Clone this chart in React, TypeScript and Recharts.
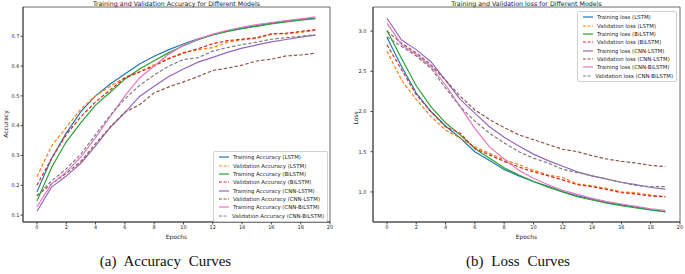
import { LineChart, Line, XAxis, YAxis, ReferenceArea } from "recharts"

const epochs = [0, 1, 2, 3, 4, 5, 6, 7, 8, 9, 10, 11, 12, 13, 14, 15, 16, 17, 18, 19]
const epochTicks = [0, 2, 4, 6, 8, 10, 12, 14, 16, 18, 20]
const accTicks = [0.1, 0.2, 0.3, 0.4, 0.5, 0.6, 0.7]
const lossTicks = [1.0, 1.5, 2.0, 2.5, 3.0]

// accuracy curves
const trainAccLstm = [0.178, 0.29, 0.375, 0.447, 0.5, 0.54, 0.573, 0.607, 0.633, 0.655, 0.674, 0.691, 0.705, 0.717, 0.727, 0.736, 0.744, 0.75, 0.756, 0.761]
const valAccLstm = [0.229, 0.332, 0.394, 0.456, 0.5, 0.532, 0.562, 0.581, 0.604, 0.626, 0.646, 0.655, 0.662, 0.68, 0.688, 0.693, 0.707, 0.708, 0.713, 0.72]
const trainAccBilstm = [0.147, 0.26, 0.346, 0.41, 0.469, 0.512, 0.556, 0.59, 0.618, 0.645, 0.668, 0.688, 0.704, 0.716, 0.725, 0.733, 0.741, 0.748, 0.754, 0.759]
const valAccBilstm = [0.2, 0.29, 0.37, 0.43, 0.48, 0.52, 0.56, 0.58, 0.6, 0.625, 0.643, 0.658, 0.675, 0.685, 0.69, 0.695, 0.708, 0.71, 0.716, 0.722]
const trainAccCnnLstm = [0.113, 0.194, 0.231, 0.274, 0.332, 0.394, 0.444, 0.498, 0.532, 0.565, 0.59, 0.613, 0.629, 0.646, 0.66, 0.671, 0.681, 0.689, 0.697, 0.704]
const valAccCnnLstm = [0.165, 0.205, 0.24, 0.28, 0.34, 0.395, 0.445, 0.47, 0.51, 0.53, 0.547, 0.565, 0.585, 0.593, 0.603, 0.617, 0.623, 0.634, 0.637, 0.643]
const trainAccCnnBilstm = [0.128, 0.205, 0.245, 0.295, 0.36, 0.43, 0.5, 0.56, 0.6, 0.64, 0.67, 0.69, 0.707, 0.72, 0.73, 0.739, 0.746, 0.752, 0.758, 0.765]
const valAccCnnBilstm = [0.165, 0.215, 0.255, 0.305, 0.37, 0.435, 0.49, 0.535, 0.57, 0.6, 0.622, 0.628, 0.65, 0.662, 0.672, 0.68, 0.69, 0.695, 0.7, 0.705]

// loss curves
const trainLossLstm = [2.925, 2.56, 2.23, 2.0, 1.82, 1.67, 1.5, 1.39, 1.28, 1.2, 1.13, 1.07, 1.0, 0.95, 0.91, 0.87, 0.84, 0.81, 0.78, 0.755]
const valLossLstm = [2.75, 2.39, 2.15, 1.94, 1.77, 1.67, 1.56, 1.48, 1.4, 1.34, 1.27, 1.21, 1.18, 1.1, 1.075, 1.045, 1.0, 0.99, 0.96, 0.94]
const trainLossBilstm = [3.01, 2.66, 2.32, 2.06, 1.86, 1.71, 1.54, 1.42, 1.3, 1.21, 1.13, 1.06, 1.0, 0.94, 0.9, 0.86, 0.83, 0.8, 0.775, 0.75]
const valLossBilstm = [2.83, 2.52, 2.21, 2.0, 1.81, 1.73, 1.54, 1.46, 1.38, 1.31, 1.25, 1.2, 1.15, 1.09, 1.065, 1.03, 0.99, 0.975, 0.95, 0.94]
const trainLossCnnLstm = [3.16, 2.89, 2.77, 2.62, 2.39, 2.15, 1.98, 1.81, 1.68, 1.57, 1.47, 1.39, 1.32, 1.25, 1.2, 1.16, 1.12, 1.09, 1.055, 1.035]
const valLossCnnLstm = [3.0, 2.85, 2.73, 2.58, 2.39, 2.19, 2.02, 1.9, 1.8, 1.71, 1.65, 1.59, 1.53, 1.5, 1.45, 1.41, 1.38, 1.36, 1.33, 1.315]
const trainLossCnnBilstm = [3.1, 2.83, 2.71, 2.56, 2.33, 2.06, 1.79, 1.56, 1.41, 1.27, 1.17, 1.09, 1.02, 0.97, 0.92, 0.88, 0.85, 0.82, 0.79, 0.77]
const valLossCnnBilstm = [2.93, 2.81, 2.69, 2.54, 2.29, 2.06, 1.88, 1.73, 1.61, 1.5, 1.42, 1.36, 1.28, 1.24, 1.2, 1.16, 1.12, 1.08, 1.065, 1.065]

const models = ["LSTM", "BiLSTM", "CNN-LSTM", "CNN-BiLSTM"]
const trainColors = ["#1f77b4", "#2ca02c", "#9467bd", "#e377c2"]
const valColors = ["#ff7f0e", "#d62728", "#8c564b", "#7f7f7f"]

const accSeries = [trainAccLstm, valAccLstm, trainAccBilstm, valAccBilstm, trainAccCnnLstm, valAccCnnLstm, trainAccCnnBilstm, valAccCnnBilstm]
const lossSeries = [trainLossLstm, valLossLstm, trainLossBilstm, valLossBilstm, trainLossCnnLstm, valLossCnnLstm, trainLossCnnBilstm, valLossCnnBilstm]

const FONT = "'DejaVu Sans', sans-serif"

type SeriesInfo = { key: string; name: string; color: string; dashed: boolean }

function seriesInfo(kind: string): SeriesInfo[] {
  const out: SeriesInfo[] = []
  models.forEach((m, i) => {
    out.push({ key: "s" + i * 2, name: `Training ${kind} (${m})`, color: trainColors[i], dashed: false })
    out.push({ key: "s" + (i * 2 + 1), name: `Validation ${kind} (${m})`, color: valColors[i], dashed: true })
  })
  return out
}

function buildRows(series: number[][]) {
  return epochs.map((e, i) => {
    const row: Record<string, number> = { epoch: e }
    series.forEach((s, j) => (row["s" + j] = s[i]))
    return row
  })
}

function LegendBox({ items, style }: { items: SeriesInfo[]; style: React.CSSProperties }) {
  return (
    <div
      style={{
        position: "absolute",
        border: "1px solid #d0d0d0",
        borderRadius: 2,
        background: "rgba(255,255,255,0.85)",
        padding: "1px 3px 1px 5px",
        fontFamily: FONT,
        fontSize: 5.4,
        color: "#222",
        ...style,
      }}
    >
      {items.map((it) => (
        <div key={it.key} style={{ display: "flex", alignItems: "center", height: 8.36 }}>
          <svg width={10} height={4} style={{ marginRight: 4 }}>
            <line x1={0} x2={10} y1={2} y2={2} stroke={it.color} strokeWidth={1.2} strokeDasharray={it.dashed ? "3 1.5" : undefined} />
          </svg>
          <span style={{ whiteSpace: "nowrap" }}>{it.name}</span>
        </div>
      ))}
    </div>
  )
}

type PanelProps = {
  left: number
  width: number
  plotLeft: number
  plotRight: number
  yWidth: number
  series: number[][]
  kind: string
  yDomain: [number, number]
  yTicks: number[]
  yLabel: string
  yLabelX: number
  yLabelY: number
  title: string
  legendStyle: React.CSSProperties
  tickMargin: number
}

function Panel(p: PanelProps) {
  const rows = buildRows(p.series)
  const info = seriesInfo(p.kind)
  const plotTop = 7
  const plotBottom = 222
  return (
    <div style={{ position: "absolute", left: p.left, top: 0, width: p.width, height: 240 }}>
      <div
        style={{
          position: "absolute",
          left: p.plotLeft,
          width: p.plotRight - p.plotLeft,
          top: 0,
          lineHeight: "7px",
          textAlign: "center",
          fontFamily: FONT,
          fontSize: 6.3,
          color: "#222",
          whiteSpace: "nowrap",
        }}
      >
        {p.title}
      </div>
      <div
        style={{
          position: "absolute",
          left: p.yLabelX,
          top: p.yLabelY,
          transform: "translate(-50%, -50%) rotate(-90deg)",
          fontFamily: FONT,
          fontSize: 6,
          color: "#222",
          whiteSpace: "nowrap",
        }}
      >
        {p.yLabel}
      </div>
      <LineChart
        width={p.width}
        height={240}
        data={rows}
        margin={{ top: plotTop, right: p.width - p.plotRight, bottom: 0, left: p.plotLeft - p.yWidth }}
      >
        <XAxis
          dataKey="epoch"
          type="number"
          domain={[-0.95, 20]}
          ticks={epochTicks}
          interval={0}
          allowDataOverflow
          height={240 - plotBottom}
          tickSize={2.5}
          tickMargin={1}
          stroke="#444"
          tick={{ fontSize: 5, fill: "#222", fontFamily: FONT }}
          label={{ value: "Epochs", position: "insideBottom", offset: 1, fontSize: 6, fill: "#222", fontFamily: FONT }}
        />
        <YAxis
          type="number"
          domain={p.yDomain}
          ticks={p.yTicks}
          interval={0}
          allowDataOverflow
          width={p.yWidth}
          tickSize={2.5}
          tickMargin={p.tickMargin}
          stroke="#444"
          tickFormatter={(v: number) => v.toFixed(1)}
          tick={{ fontSize: 5, fill: "#222", fontFamily: FONT }}
        />
        <ReferenceArea x1={-0.95} x2={20} y1={p.yDomain[0]} y2={p.yDomain[1]} fill="none" stroke="#444" strokeWidth={0.8} ifOverflow="visible" />
        {info.map((s) => (
          <Line
            key={s.key}
            type="linear"
            dataKey={s.key}
            name={s.name}
            stroke={s.color}
            strokeWidth={1.2}
            strokeDasharray={s.dashed ? "3.5 2" : undefined}
            dot={false}
            isAnimationActive={false}
          />
        ))}
      </LineChart>
      <LegendBox items={info} style={p.legendStyle} />
    </div>
  )
}

const captionStyle: React.CSSProperties = {
  position: "absolute",
  top: 253,
  textAlign: "center",
  fontFamily: "'Liberation Serif', serif",
  fontSize: 15,
  wordSpacing: 4,
  color: "#111",
  whiteSpace: "pre",
}

export default function App() {
  return (
    <div style={{ position: "absolute", left: 0, top: 0, width: 685, height: 274, background: "#fff" }}>
      <Panel
        left={0}
        width={340}
        plotLeft={23}
        plotRight={330}
        yWidth={23}
        series={accSeries}
        kind="Accuracy"
        yDomain={[0.077, 0.798]}
        yTicks={accTicks}
        yLabel="Accuracy"
        yLabelX={5}
        yLabelY={124}
        title="Training and Validation Accuracy for Different Models"
        legendStyle={{ left: 213, top: 151, width: 105 }}
        tickMargin={1}
      />
      <Panel
        left={340}
        width={345}
        plotLeft={33}
        plotRight={340}
        yWidth={24}
        series={lossSeries}
        kind="loss"
        yDomain={[0.626, 3.3]}
        yTicks={lossTicks}
        yLabel="Loss"
        yLabelX={15}
        yLabelY={118}
        title="Training and Validation loss for Different Models"
        legendStyle={{ left: 237, top: 11, width: 90 }}
        tickMargin={4}
      />
      <div style={{ ...captionStyle, left: 0, width: 331 }}>{"(a) Accuracy Curves"}</div>
      <div style={{ ...captionStyle, left: 340, width: 356 }}>{"(b) Loss Curves"}</div>
    </div>
  )
}
